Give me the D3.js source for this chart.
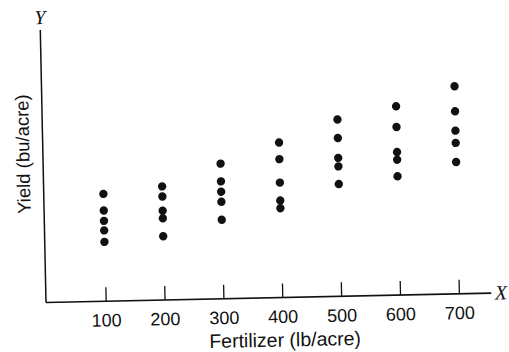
<!DOCTYPE html>
<html>
<head>
<meta charset="utf-8">
<script src="https://cdn.jsdelivr.net/npm/d3@7"></script>
<style>
  html, body { margin: 0; padding: 0; background: #fff; }
  svg { display: block; }
</style>
</head>
<body>
<script>
// Fertilizer levels (lb/acre) and the yields observed at each level (relative units, 0–100 on the Y axis)
const fertilizer = [100, 200, 300, 400, 500, 600, 700];
const yield100 = [39.4, 33.3, 29.5, 26.0, 21.8];
const yield200 = [41.7, 38.0, 32.8, 30.0, 23.4];
const yield300 = [49.6, 43.1, 39.3, 35.6, 29.0];
const yield400 = [56.9, 50.8, 42.2, 35.6, 32.8];
const yield500 = [64.9, 58.1, 50.8, 47.7, 41.2];
const yield600 = [69.3, 61.7, 52.5, 49.7, 43.6];
const yield700 = [76.2, 67.0, 59.9, 55.4, 48.4];
const yieldsByLevel = [yield100, yield200, yield300, yield400, yield500, yield600, yield700];
const xTickLabels = ["100", "200", "300", "400", "500", "600", "700"];

const points = [];
fertilizer.forEach((f, i) => yieldsByLevel[i].forEach(v => points.push({ f, v })));

const W = 509, H = 352;
const ink = "#111";

const svg = d3.select("body").append("svg").attr("width", W).attr("height", H);

// Plot frame, slightly tilted as in the printed figure
const g = svg.append("g").attr("transform", "translate(46,302.5) rotate(-1.2)");

const x = d3.scaleLinear().domain([0, 760]).range([0.8, 448.3]);
const y = d3.scaleLinear().domain([0, 100]).range([0, -272.5]);

// Axis lines
g.append("line")
  .attr("x1", 0).attr("y1", 0).attr("x2", x(755)).attr("y2", 0)
  .attr("stroke", ink).attr("stroke-width", 1.7);
g.append("line")
  .attr("x1", 0).attr("y1", 0).attr("x2", 0).attr("y2", y(100))
  .attr("stroke", ink).attr("stroke-width", 1.5);

// X ticks point up into the plot, labels sit below the axis
const xAxis = d3.axisBottom(x)
  .tickValues(fertilizer)
  .tickFormat((d, i) => xTickLabels[i])
  .tickSize(-14)
  .tickSizeOuter(0)
  .tickPadding(12.5);

const ax = g.append("g").call(xAxis);
ax.select(".domain").remove();
ax.selectAll(".tick line").attr("stroke", ink).attr("stroke-width", 1.3);
ax.selectAll(".tick text")
  .attr("fill", ink)
  .style("font-family", "'Liberation Sans', Arial, sans-serif")
  .style("font-size", "18px");

// Axis titles
g.append("text")
  .attr("x", (x(100) + x(700)) / 2 + 2)
  .attr("y", 49)
  .attr("text-anchor", "middle")
  .attr("fill", ink)
  .style("font-family", "'Liberation Sans', Arial, sans-serif")
  .style("font-size", "19.5px")
  .text("Fertilizer (lb/acre)");

g.append("text")
  .attr("transform", "translate(-13.5," + (-148.8) + ") rotate(-90)")
  .attr("text-anchor", "middle")
  .attr("fill", ink)
  .style("font-family", "'Liberation Sans', Arial, sans-serif")
  .style("font-size", "18.5px")
  .text("Yield (bu/acre)");

// Axis letters
g.append("text")
  .attr("x", 0).attr("y", y(100) - 6)
  .attr("text-anchor", "middle")
  .attr("fill", ink)
  .style("font-family", "'Liberation Serif', 'Times New Roman', serif")
  .style("font-style", "italic")
  .style("font-size", "20px")
  .text("Y");

g.append("text")
  .attr("x", 455).attr("y", 6.5)
  .attr("text-anchor", "middle")
  .attr("fill", ink)
  .style("font-family", "'Liberation Serif', 'Times New Roman', serif")
  .style("font-style", "italic")
  .style("font-size", "20px")
  .text("X");

// Observations
g.append("g").selectAll("circle")
  .data(points)
  .join("circle")
  .attr("cx", d => x(d.f))
  .attr("cy", d => y(d.v))
  .attr("r", 4.2)
  .attr("fill", ink);
</script>
</body>
</html>
